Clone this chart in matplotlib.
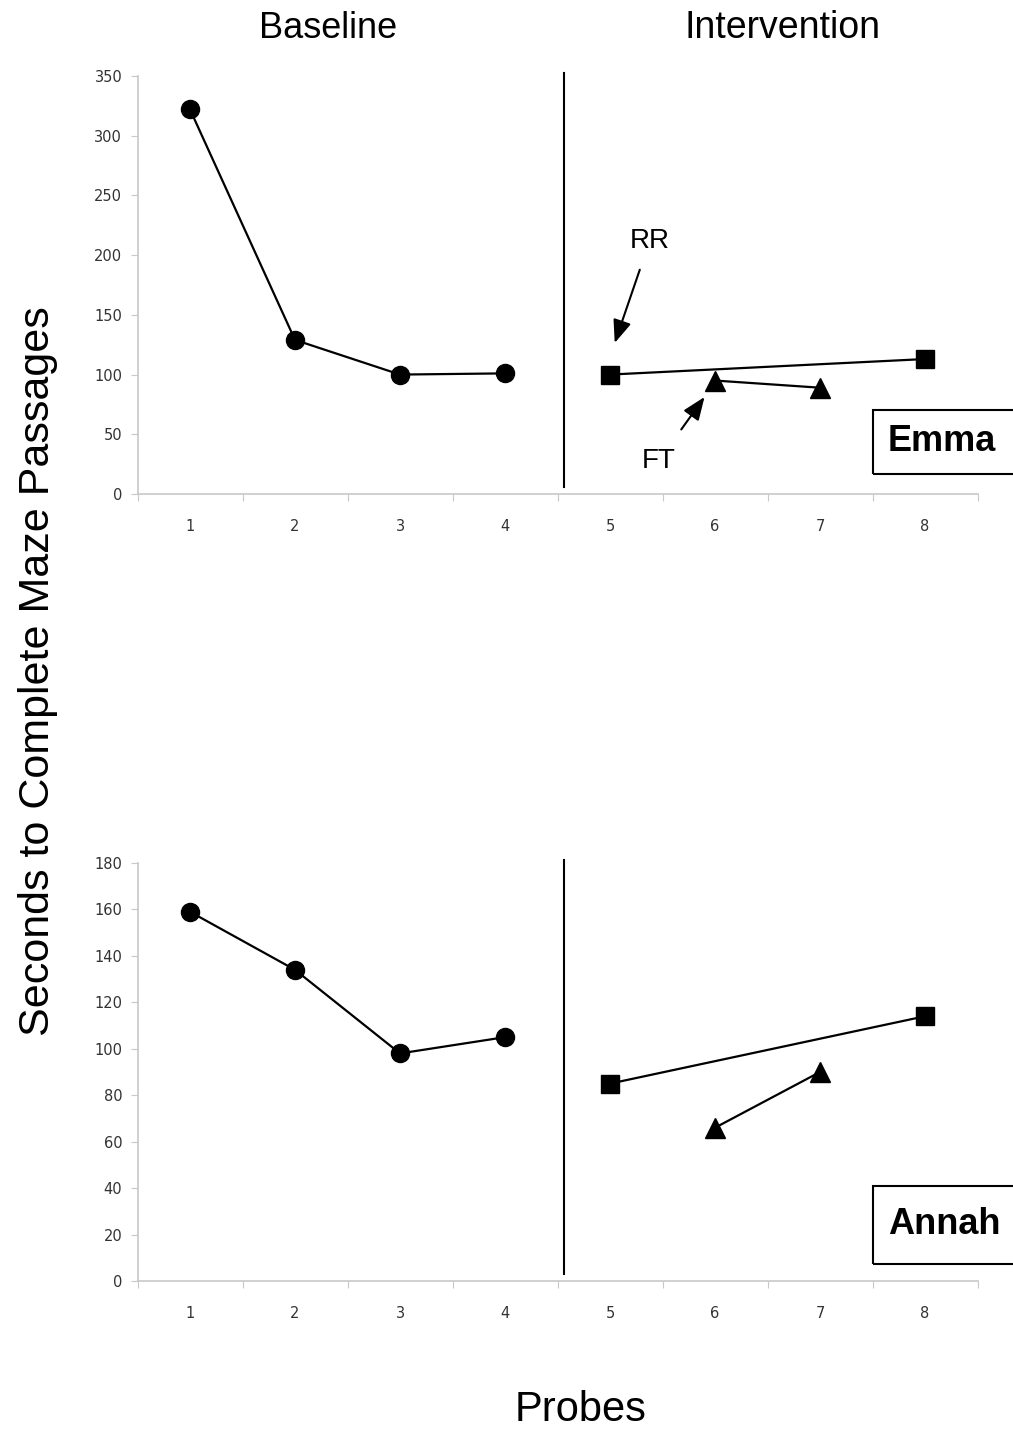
import numpy as np
import matplotlib.pyplot as plt
from matplotlib.patches import Rectangle

plt.rcParams['font.family'] = ['Liberation Sans', 'DejaVu Sans']

# data
probes_base = [1, 2, 3, 4]
probes_rr = [5, 8]
probes_ft = [6, 7]

emma_base = [322, 129, 100, 101]
emma_rr = [100, 113]
emma_ft = [95, 89]

annah_base = [159, 134, 98, 105]
annah_rr = [85, 114]
annah_ft = [66, 90]

xlabels = ['1', '2', '3', '4', '5', '6', '7', '8']
phase_x = 4.56

W, H = 1013, 1435
fig = plt.figure(figsize=(W / 100, H / 100), dpi=100)

axcol = '#c8c8c8'


def setup(ax, ymax, ystep):
    ax.set_xlim(0.5, 8.5)
    ax.set_ylim(0, ymax)
    for s in ['top', 'right']:
        ax.spines[s].set_visible(False)
    for s in ['left', 'bottom']:
        ax.spines[s].set_color(axcol)
        ax.spines[s].set_linewidth(1.2)
    ax.set_yticks(np.arange(0, ymax + 1, ystep))
    ax.tick_params(axis='y', length=5, color=axcol, pad=6, labelsize=10.5,
                   labelcolor='#333333', labelfontfamily='DejaVu Sans')
    ax.set_xticks(np.arange(0.5, 9, 1))
    ax.set_xticklabels([])
    ax.tick_params(axis='x', which='major', length=5, color=axcol)
    ax.set_xticks(range(1, 9), minor=True)
    ax.set_xticklabels(xlabels, minor=True)
    ax.tick_params(axis='x', which='minor', length=0, pad=18, labelsize=10.5,
                   labelcolor='#333333', labelfontfamily='DejaVu Sans')
    ax.axvline(phase_x, ymin=0.017, ymax=1.007, color='black', lw=1.5, clip_on=False)


def series(ax, base, rr, ft):
    ax.plot(probes_base, base, '-o', color='black', lw=1.6, ms=13, clip_on=False)
    ax.plot(probes_rr, rr, '-s', color='black', lw=1.6, ms=13, clip_on=False)
    ax.plot(probes_ft, ft, '-^', color='black', lw=1.6, ms=14, clip_on=False)


left = 137.5 / W
width = 840 / W
h = 418 / H

ax1 = fig.add_axes([left, 1 - 494 / H, width, h])
setup(ax1, 350, 50)
series(ax1, emma_base, emma_rr, emma_ft)

arrow = dict(arrowstyle='-|>,head_length=0.7,head_width=0.28', color='black', lw=1.5)
ax1.annotate('RR', xy=(5.045, 126.5), xytext=(5.378, 212), ha='center', va='center',
             fontsize=20, arrowprops=dict(arrow, shrinkA=10, shrinkB=0))
ax1.annotate('FT', xy=(5.90, 81.2), xytext=(5.463, 27.6), ha='center', va='center',
             fontsize=20, arrowprops=dict(arrow, shrinkA=14, shrinkB=0))

ax2 = fig.add_axes([left, 1 - 1281 / H, width, h])
setup(ax2, 180, 20)
series(ax2, annah_base, annah_rr, annah_ft)

# name boxes
for name, top, bot in [('Emma', 410, 474), ('Annah', 1186, 1264)]:
    fig.add_artist(Rectangle((873 / W, 1 - bot / H), 200 / W, (bot - top) / H,
                             transform=fig.transFigure, fill=False, lw=1.5,
                             edgecolor='black'))
    fig.text(888 / W, 1 - (top + bot) / 2 / H, name, ha='left', va='center',
             fontsize=26, fontweight='bold')

fig.text(328 / W, 1 - 28 / H, 'Baseline', ha='center', va='center', fontsize=26)
fig.text(782 / W, 1 - 28 / H, 'Intervention', ha='center', va='center', fontsize=27)
fig.text(581 / W, 1 - 1410 / H, 'Probes', ha='center', va='center', fontsize=30)
fig.text(38 / W, 1 - 671 / H, 'Seconds to Complete Maze Passages', ha='center',
         va='center', rotation=90, fontsize=31)

fig.savefig('out.png', dpi=100)
